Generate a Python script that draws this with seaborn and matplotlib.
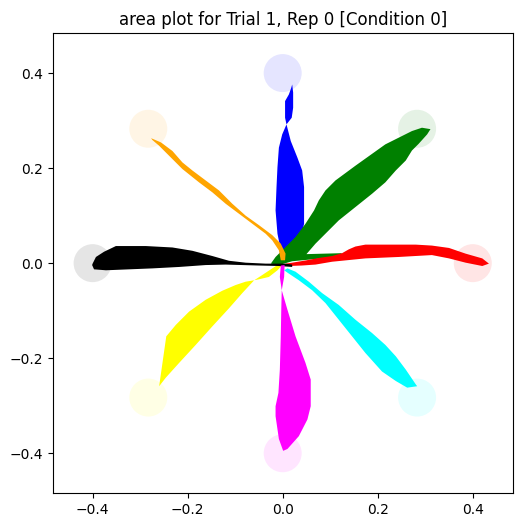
import numpy as np
import pandas as pd
import matplotlib
matplotlib.use('Agg')
import matplotlib.pyplot as plt
import seaborn as sns
from matplotlib.patches import Circle

# target layout (8 directions, radius 0.4)
target_angles = [0, 45, 90, 135, 180, 225, 270, 315]
target_radius = 0.4
target_size = 0.04
color_names = ['red', 'green', 'blue', 'orange', 'black', 'yellow', 'magenta', 'cyan']

# band outlines of the movement areas
red_x = [0.434, 0.420, 0.385, 0.350, 0.314, 0.280, 0.209, 0.174, 0.153, 0.139, 0.125, 0.104, 0.076, 0.050, 0.020,
         0.006, 0.013, 0.040, 0.069, 0.104, 0.174, 0.244, 0.314, 0.350, 0.385, 0.420]
red_y = [-0.001, 0.010, 0.020, 0.032, 0.037, 0.039, 0.039, 0.039, 0.035, 0.029, 0.021, 0.015, 0.011, 0.006, 0.001,
         -0.001, -0.006, -0.005, -0.003, 0.003, 0.010, 0.013, 0.017, 0.010, 0.001, -0.006]

green_x = [0.311, 0.293, 0.272, 0.244, 0.216, 0.188, 0.153, 0.111, 0.090, 0.076, 0.066, 0.048, 0.027, 0.006,
           -0.015, -0.025, -0.008, 0.020, 0.125, 0.124, 0.050, 0.069, 0.090, 0.118, 0.153, 0.188, 0.216,
           0.238, 0.259, 0.272, 0.286, 0.304]
green_y = [0.282, 0.285, 0.278, 0.264, 0.250, 0.230, 0.205, 0.174, 0.153, 0.132, 0.111, 0.083, 0.055, 0.034,
           0.013, -0.001, -0.004, 0.004, 0.014, 0.021, 0.019, 0.041, 0.062, 0.090, 0.118, 0.146, 0.170,
           0.195, 0.216, 0.237, 0.251, 0.271]

blue_x = [0.020, 0.022, 0.022, 0.019, 0.008, 0.017, 0.031, 0.041, 0.045, 0.045, 0.045, 0.034, 0.006,
          -0.004, -0.011, -0.015, -0.013, -0.011, -0.008, -0.001, 0.008, 0.005, 0.005, 0.013, 0.018]
blue_y = [0.376, 0.359, 0.327, 0.306, 0.292, 0.257, 0.222, 0.195, 0.160, 0.125, 0.083, 0.034, 0.006,
          0.027, 0.062, 0.111, 0.160, 0.202, 0.243, 0.271, 0.292, 0.306, 0.341, 0.355, 0.369]

orange_x = [-0.277, -0.256, -0.232, -0.211, -0.190, -0.162, -0.134, -0.106, -0.078, -0.050, -0.022, -0.004,
            0.006, 0.005, -0.004, -0.008, -0.022, -0.036, -0.064, -0.092, -0.120, -0.148, -0.176, -0.211,
            -0.239, -0.260, -0.274]
orange_y = [0.263, 0.254, 0.236, 0.212, 0.195, 0.174, 0.153, 0.125, 0.100, 0.080, 0.059, 0.041,
            0.020, 0.006, 0.006, 0.027, 0.048, 0.062, 0.083, 0.104, 0.125, 0.149, 0.170, 0.198,
            0.226, 0.247, 0.259]

black_x = [-0.400, -0.393, -0.376, -0.351, -0.288, -0.232, -0.190, -0.148, -0.113, -0.078, -0.036, 0.006, 0.020,
           0.020, -0.008, -0.050, -0.085, -0.120, -0.162, -0.218, -0.274, -0.323, -0.372, -0.397, -0.401]
black_y = [-0.001, 0.013, 0.024, 0.036, 0.036, 0.033, 0.026, 0.015, 0.005, 0.001, -0.001, -0.001, -0.003,
           -0.008, -0.006, -0.005, -0.004, -0.003, -0.004, -0.008, -0.011, -0.013, -0.015, -0.013, -0.004]

yellow_x = [-0.260, -0.253, -0.245, -0.225, -0.197, -0.162, -0.127, -0.099, -0.078, -0.060, -0.043, -0.022,
            -0.011, 0.000, -0.011, -0.029, -0.050, -0.060, -0.085, -0.113, -0.148, -0.183, -0.218, -0.246]
yellow_y = [-0.259, -0.210, -0.154, -0.130, -0.102, -0.077, -0.058, -0.046, -0.039, -0.036, -0.025, -0.011,
            -0.004, -0.003, -0.015, -0.029, -0.034, -0.036, -0.063, -0.095, -0.133, -0.172, -0.210, -0.241]

magenta_x = [-0.004, 0.004, 0.003, -0.002, 0.010, 0.027, 0.048, 0.059, 0.059, 0.052, 0.034, 0.010, 0.001,
             -0.008, -0.015, -0.015, -0.009, -0.006, -0.004, -0.003, -0.002, -0.006]
magenta_y = [-0.005, -0.004, -0.029, -0.057, -0.098, -0.154, -0.210, -0.245, -0.301, -0.329, -0.364, -0.391, -0.395,
             -0.370, -0.322, -0.301, -0.273, -0.224, -0.154, -0.098, -0.057, -0.029]

cyan_x = [0.003, 0.010, 0.027, 0.055, 0.083, 0.118, 0.153, 0.188, 0.216, 0.238, 0.259, 0.280, 0.283,
          0.262, 0.238, 0.209, 0.174, 0.146, 0.118, 0.090, 0.062, 0.034, 0.013]
cyan_y = [-0.015, -0.011, -0.018, -0.039, -0.063, -0.088, -0.119, -0.147, -0.172, -0.196, -0.224, -0.255, -0.259,
          -0.262, -0.248, -0.228, -0.189, -0.154, -0.119, -0.084, -0.057, -0.036, -0.022]

areas = {
    'red': (red_x, red_y),
    'green': (green_x, green_y),
    'blue': (blue_x, blue_y),
    'orange': (orange_x, orange_y),
    'black': (black_x, black_y),
    'yellow': (yellow_x, yellow_y),
    'magenta': (magenta_x, magenta_y),
    'cyan': (cyan_x, cyan_y),
}
draw_order = ['blue', 'green', 'red', 'orange', 'yellow', 'black', 'magenta', 'cyan']

palette = dict(zip(color_names, sns.color_palette(color_names)))

fig = plt.figure(figsize=(5.28, 5.28), dpi=100)
ax = fig.add_axes([0.0998, 0.0644, 0.8712, 0.8744])

# faint target circles
for ang, name in zip(target_angles, color_names):
    cx = target_radius * np.cos(np.deg2rad(ang))
    cy = target_radius * np.sin(np.deg2rad(ang))
    ax.add_patch(Circle((cx, cy), target_size, color=palette[name], alpha=0.1, lw=0))

# movement areas
for name in draw_order:
    xs, ys = areas[name]
    ax.fill(xs, ys, color=palette[name], lw=0)

ax.set_xlim(-0.484, 0.484)
ax.set_ylim(-0.484, 0.484)
ax.set_aspect('equal')
ax.set_xticks([-0.4, -0.2, 0.0, 0.2, 0.4])
ax.set_yticks([-0.4, -0.2, 0.0, 0.2, 0.4])
ax.set_title('area plot for Trial 1, Rep 0 [Condition 0]', fontsize=12)

plt.savefig('out.png', dpi=100)
plt.close()
